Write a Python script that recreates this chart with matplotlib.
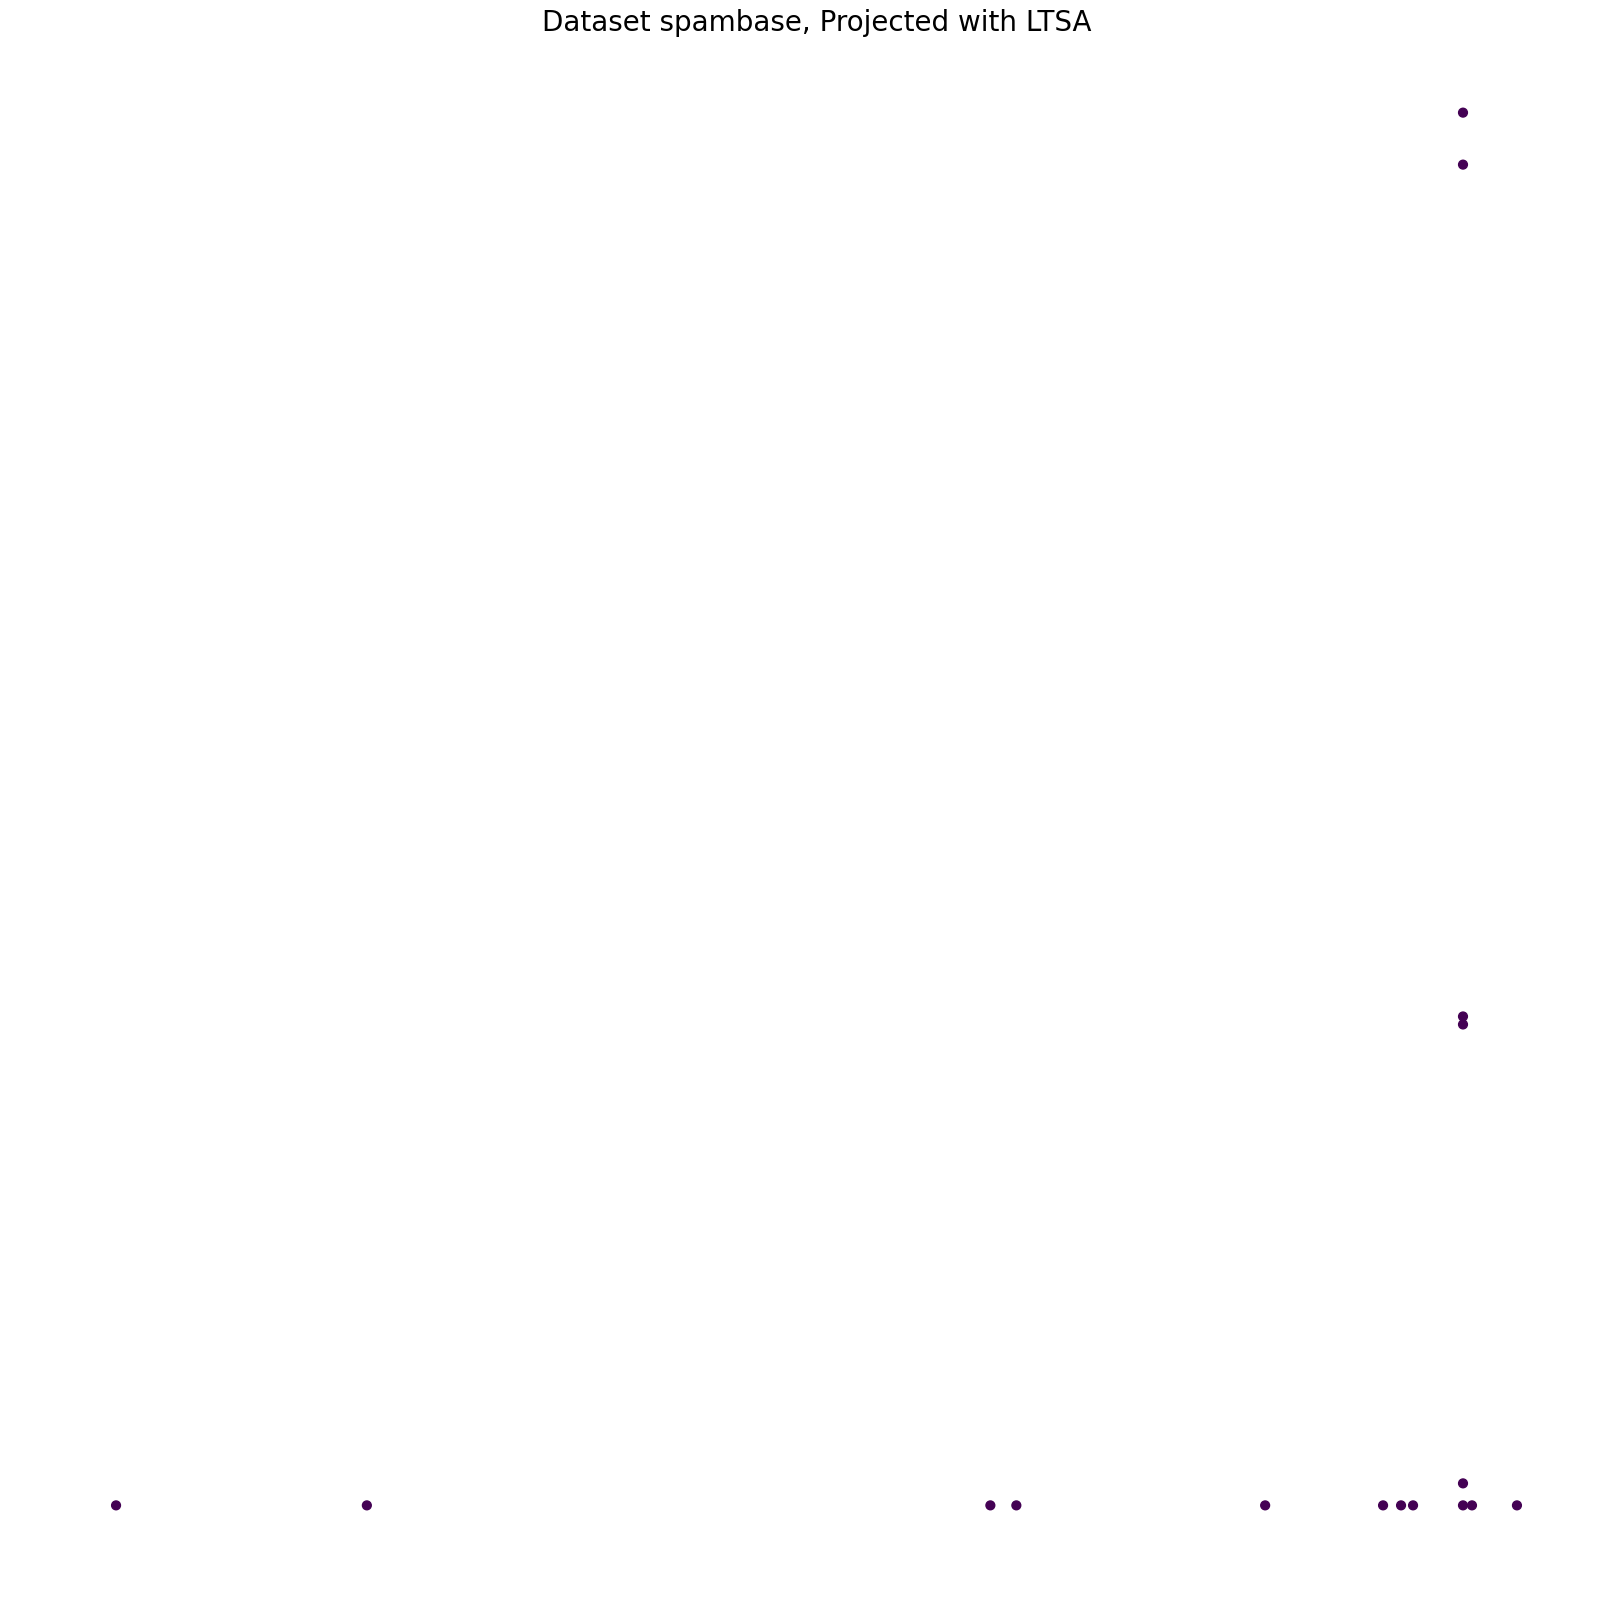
import matplotlib
matplotlib.use("Agg")
import matplotlib.pyplot as plt
import numpy as np

# Projected coordinates (LTSA component 1, component 2)
x_vals = [-0.1348, -0.1097, -0.0473, -0.0447, -0.0198, -0.0080, -0.0062, -0.0050,
          0.0000, 0.0009, 0.0054, 0.0000, 0.0000, 0.0000, 0.0000, 0.0000]
y_vals = [0.0000, 0.0000, 0.0000, 0.0000, 0.0000, 0.0000, 0.0000, 0.0000,
          0.0000, 0.0000, 0.0000, 0.0022, 0.0481, 0.0489, 0.1341, 0.1393]
labels = [0] * len(x_vals)

fig = plt.figure(figsize=(16.05, 16.14), dpi=100)
left, width = 46 / 1605, 1541 / 1605
ax = fig.add_axes([left, 1 - 1575 / 1614, width, 1532 / 1614])
ax.scatter(x_vals, y_vals, c=labels, cmap="viridis", vmin=0, vmax=1, s=40)
ax.set_axis_off()
fig.text(left + width / 2, 1 - 23 / 1614, "Dataset spambase, Projected with LTSA",
         ha="center", va="center", fontsize=20)
fig.savefig("out.png", dpi=100)
